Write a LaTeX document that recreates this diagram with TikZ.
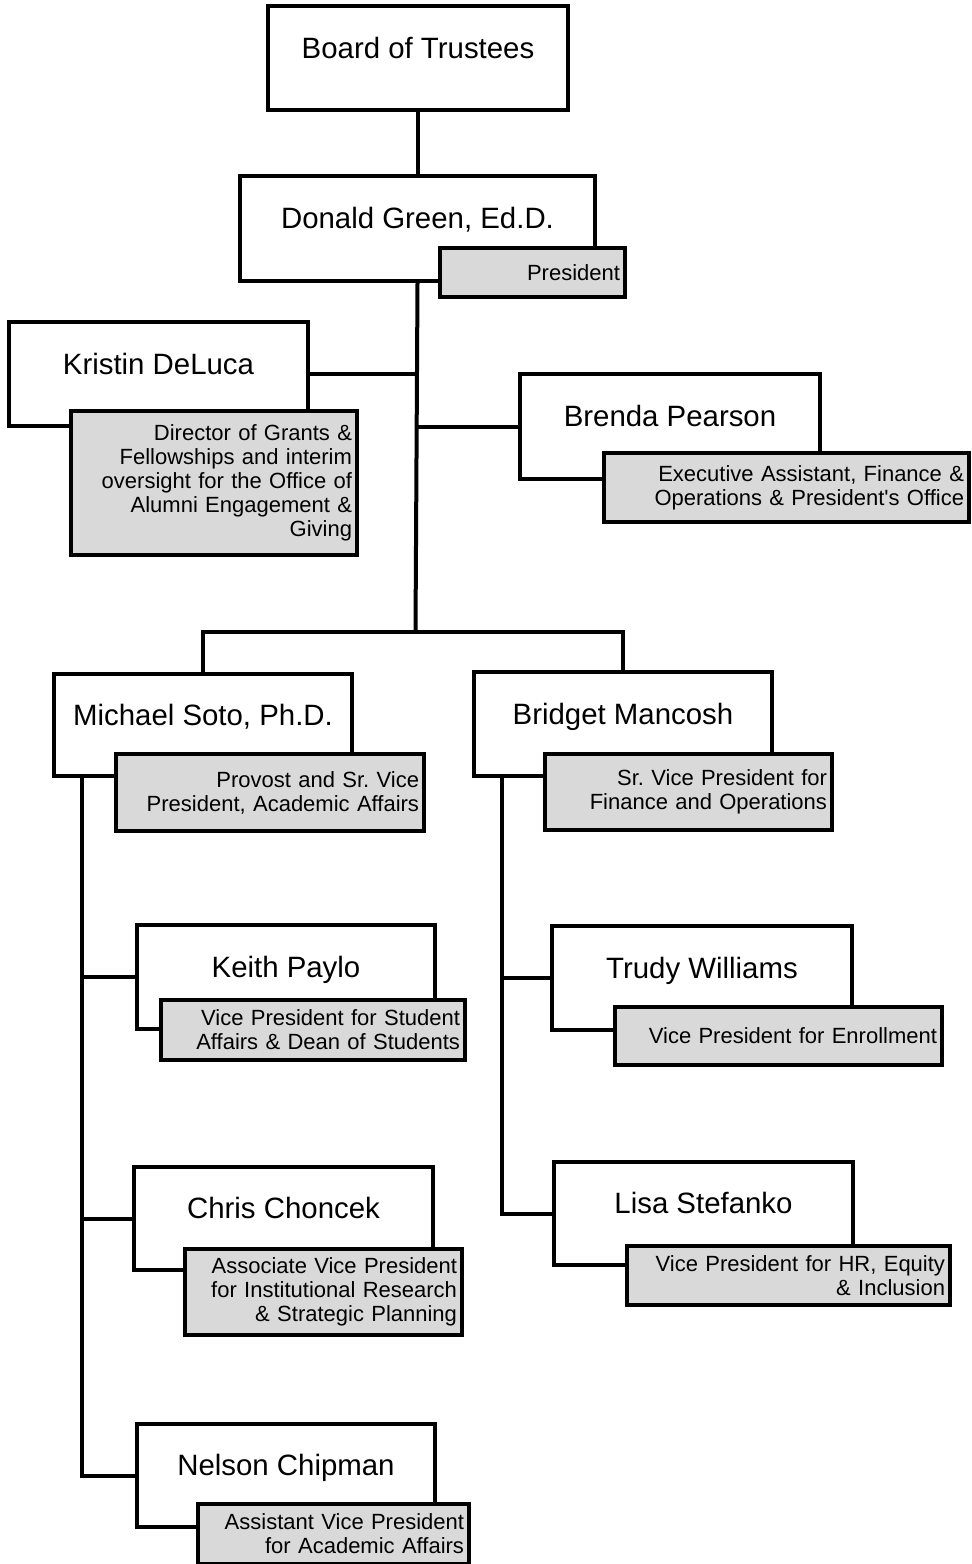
\documentclass[tikz,border=0pt]{standalone}
\usepackage{fontspec}
\setmainfont{Liberation Sans}
\usepackage{tikz}
\usetikzlibrary{positioning}
\frenchspacing

\tikzset{
  namebox/.style={draw, fill=white, line width=2pt, anchor=north west,
    font=\fontsize{14.7}{16}\selectfont, text height=10.5pt, text depth=10.5pt},
  rolebox/.style={draw, fill=black!15, line width=2pt, anchor=north west,
    font=\fontsize{11}{12}\selectfont, align=right, inner xsep=2.5pt, inner ysep=0pt},
  link/.style={line width=2pt}
}

\begin{document}
\begin{tikzpicture}[x=0.5pt,y=-0.5pt]
\useasboundingbox (0,0) rectangle (971,1564);
% top
\node[namebox, minimum width=150pt, minimum height=52pt] (board) at (266,4) {Board of Trustees};
\node[namebox, minimum width=177.5pt, minimum height=52.5pt] (green) at (238,174) {Donald Green, Ed.D.};
\node[rolebox, minimum width=92.5pt, text width=87.5pt, minimum height=24.5pt] (greenrole) at (438,246) {President};
% staff
\node[namebox, minimum width=149.5pt, minimum height=52pt] (deluca) at (7,320) {Kristin DeLuca};
\node[rolebox, minimum width=143pt, text width=138pt, minimum height=72pt] (delucarole) at (69,409)
  {Director of Grants \&\\Fellowships and interim\\oversight for the Office of\\Alumni Engagement \&\\Giving};
\node[namebox, minimum width=150pt, minimum height=52.5pt] (pearson) at (518,372) {Brenda Pearson};
\node[rolebox, minimum width=182.5pt, text width=177.5pt, minimum height=34.5pt] (pearsonrole) at (602,451)
  {Executive Assistant, Finance \&\\Operations \& President\textquotesingle s Office};
% vice presidents
\node[namebox, minimum width=149pt, minimum height=51pt] (soto) at (52,672) {Michael Soto, Ph.D.};
\node[rolebox, minimum width=154pt, text width=149pt, minimum height=38.5pt] (sotorole) at (114,752)
  {Provost and Sr. Vice\\President, Academic Affairs};
\node[namebox, minimum width=149pt, minimum height=52pt] (mancosh) at (472,670) {Bridget Mancosh};
\node[rolebox, minimum width=143.5pt, text width=138.5pt, minimum height=38pt] (mancoshrole) at (543,752)
  {Sr. Vice President for\\Finance and Operations};
% academic side
\node[namebox, minimum width=149pt, minimum height=52pt] (paylo) at (135,923) {Keith Paylo};
\node[rolebox, minimum width=152pt, text width=147pt, minimum height=30pt] (payloRole) at (159,998)
  {Vice President for Student\\Affairs \& Dean of Students};
\node[namebox, minimum width=149.5pt, minimum height=51.5pt] (choncek) at (132,1165) {Chris Choncek};
\node[rolebox, minimum width=138.5pt, text width=133.5pt, minimum height=43pt] (choncekrole) at (183,1247)
  {Associate Vice President\\for Institutional Research\\\& Strategic Planning};
\node[namebox, minimum width=149pt, minimum height=51.5pt] (chipman) at (135,1422) {Nelson Chipman};
\node[rolebox, minimum width=135.5pt, text width=130.5pt, minimum height=30pt] (chipmanrole) at (196,1502)
  {Assistant Vice President\\for Academic Affairs};
% finance side
\node[namebox, minimum width=150pt, minimum height=52pt] (williams) at (550,924) {Trudy Williams};
\node[rolebox, minimum width=163.5pt, text width=158.5pt, minimum height=29pt] (williamsrole) at (613,1005)
  {Vice President for Enrollment};
\node[namebox, minimum width=149.5pt, minimum height=51.5pt] (stefanko) at (552,1160) {Lisa Stefanko};
\node[rolebox, minimum width=161.5pt, text width=156.5pt, minimum height=29.5pt] (stefankorole) at (625,1244)
  {Vice President for HR, Equity\\\& Inclusion};
% connectors
\coordinate (bar) at (415.5,632);
\coordinate (sotoline) at (82,774);
\coordinate (mancoshline) at (502,774);
\draw[link] (board.south) -- (board.south |- green.north);
\draw[link] (green.south) -- (bar);
\draw[link] (deluca.east) -- (deluca.east -| bar);
\draw[link] (pearson.west) -- (pearson.west -| bar);
\draw[link] (soto.north) |- (bar) -| (mancosh.north);
\draw[link] (sotoline) |- (chipman.west);
\draw[link] (paylo.west) -- (paylo.west -| sotoline);
\draw[link] (choncek.west) -- (choncek.west -| sotoline);
\draw[link] (mancoshline) |- (stefanko.west);
\draw[link] (williams.west) -- (williams.west -| mancoshline);
\end{tikzpicture}
\end{document}
